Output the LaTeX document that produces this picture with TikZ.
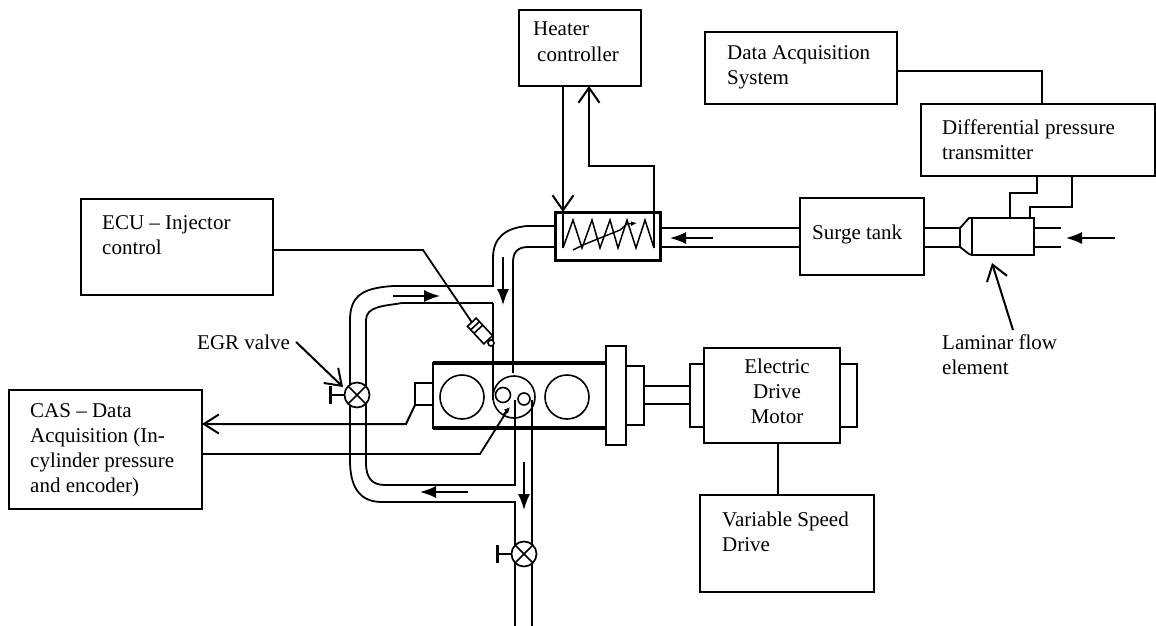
\documentclass[tikz,border=0pt]{standalone}
\usepackage{fontspec}
\setmainfont{Liberation Serif}
\usetikzlibrary{arrows.meta,calc}
\tikzset{
  box/.style={draw, line width=1.8pt, outer sep=0pt, inner sep=0pt},
  boxtext/.style={anchor=west, align=left, inner sep=0pt, font=\fontsize{21}{25}\selectfont},
  wire/.style={line width=1.8pt},
  flow/.style={line width=1.5pt, -{Latex[length=16pt,width=12pt]}},
  barb/.style={line width=2pt, -{Straight Barb[length=15pt,width=21pt,line width=2pt]}},
  valve/.style={draw, circle, fill=white, line width=1.7pt, minimum size=25pt, inner sep=0pt, outer sep=0pt}
}
\begin{document}
\begin{tikzpicture}[x=1pt,y=-1pt]
    \useasboundingbox (0,0) rectangle (1156,626);

    % Boxes, sized from their pixel extents
    \foreach \name/\x/\y/\w/\h in {ctrl/580/48/122/76, daq/801/68/192/72, dpt/1038/140/234/72,
                                   ecu/177/247/192/96, cas/105.5/449.5/193/119, surge/862/236.5/124/77,
                                   lfe/1003/236.5/62/37, engine/519.5/395.5/173/65, flange/616/395.5/20/99,
                                   hub/635/395.5/18/59, capl/697/395.5/14/63, motor/772/395.5/136/95,
                                   capr/848.5/395.5/17/63, sensor/424/394/18/22, vsd/787/543.5/174/97} {
        \node[box, minimum width=\w pt, minimum height=\h pt] (\name) at (\x,\y) {};
    }
    \node[box, line width=3pt, minimum width=105pt, minimum height=48pt] (heater) at (607.5,236) {};

    % Labels
    \node[boxtext] (ctrltext) at (533,42) {Heater\\[1pt]\hspace*{4pt}controller};
    \node[boxtext] (daqtext) at (727,67) {Data Acquisition\\System};
    \node[boxtext] (dpttext) at (942,140) {Differential pressure\\transmitter};
    \node[boxtext] (ecutext) at (102,235) {ECU -- Injector\\control};
    \node[boxtext] (castext) at (30,450) {CAS -- Data\\Acquisition (In-\\cylinder pressure\\and encoder)};
    \node[boxtext] (surgetext) at (812,234) {Surge tank};
    \node[boxtext, anchor=center, align=center] (motortext) at (777,391) {Electric\\Drive\\Motor};
    \node[boxtext] (vsdtext) at (722,532) {Variable Speed\\Drive};
    \node[boxtext] (lfetext) at (942,355) {Laminar flow\\element};
    \node[boxtext] (egrtext) at (197,342) {EGR valve};

    % Signal lines between boxes
    \coordinate (ctrlin) at (563,86);
    \coordinate (ctrlout) at (589,86);
    \draw[wire] (daq.east) ++(0,3) -- (1042,71) -- (1042,104);
    \draw[barb] (ctrlin) -- (563,212);
    \draw[wire] (563,205) -- (563,248);
    \draw[barb] (654,248) -- (654,166) -- (589,166) -- (ctrlout);
    \draw[line width=2.4pt] ([xshift=6pt]motor.south) -- ([xshift=-9pt]vsd.north);
    \draw[wire] (1037,176) -- (1037,193) -- (1010,193) -- (1010,218);
    \draw[wire] (1072,176) -- (1072,207) -- (1030,207) -- (1030,218);

    % Heating coil
    \draw[line width=1.5pt] (563,248) -- (573,220) -- (582,248) -- (592,220) -- (600,248) -- (610,220)
        -- (618,248) -- (627,220) -- (636,248) -- (645,220) -- (654,248);
    \draw[line width=1.4pt, -{Latex[length=6pt,width=5pt]}] (573,250) -- (583,245) -- (600,238) -- (620,230) -- (627,224) -- (637,223);

    % Pipes: heater to surge tank to flow element
    \foreach \y in {228,247} {
        \draw[wire] (660,\y) -- (800,\y);
        \draw[wire] (924,\y) -- (960,\y);
        \draw[wire] (1034,\y) -- (1061,\y);
    }
    \draw[wire] (960,228) -- (960,247) -- (969,254) -- (972,255);
    \draw[wire] (960,228) -- (969,218) -- (972,218);

    % Pipes: intake and EGR loop
    \draw[wire] (555,226) -- (527,226) .. controls (505,228) and (493,238) .. (493,258) -- (493,286) -- (393,286)
        .. controls (365,288) and (350,294) .. (350,320) -- (350,460) .. controls (350,485) and (358,502) .. (382,502) -- (515,502) -- (515,626);
    \draw[wire] (555,247) -- (528,247) .. controls (518,247) and (513,252) .. (513,262) -- (513,373);
    \draw[wire] (493,303) -- (402,303) .. controls (385,306) and (366,306) .. (366,320) -- (366,463)
        .. controls (366,478) and (372,485) .. (385,485) -- (515,485) -- (515,400);
    \draw[wire] (493,303) -- (493,400);
    \draw[wire] (532,400) -- (532,626);

    % Engine
    \draw[line width=3.4pt] (engine.north west) -- (engine.north east);
    \draw[line width=3.4pt] (engine.south west) -- (engine.south east);
    \foreach \x/\r in {462/22, 514/21, 567/22} {
        \draw[line width=1.6pt] (\x,397) circle (\r pt);
    }
    \draw[line width=1.6pt] (503,395) circle (7.5pt);
    \draw[line width=1.6pt] (524,399) circle (6pt);

    % Shaft
    \foreach \y in {386,404} {
        \draw[wire] (644,\y) -- (690,\y);
    }

    % Injector
    \node[draw, line width=1.6pt, fill=white, rotate=-47, minimum width=24pt, minimum height=12pt, inner sep=0pt, outer sep=0pt] (inj) at (480,331) {};
    \node[draw, circle, line width=1.6pt, fill=white, minimum size=6pt, inner sep=0pt] (injtip) at (491,343) {};
    \draw[wire] ([yshift=-3pt]ecu.east) -- (423,250) -- (inj.west);
    \draw[line width=1.6pt] ($(inj.north west)!0.2!(inj.north east)$) -- ($(inj.south west)!0.2!(inj.south east)$);
    \draw[line width=1.6pt] ($(inj.north west)!0.4!(inj.north east)$) -- ($(inj.south west)!0.4!(inj.south east)$);

    % Lines to the CAS box
    \draw[line width=2pt, -{Straight Barb[length=15pt,width=19pt,line width=2pt]}] (sensor.south west) -- (406,424) -- (cas.east |- 0,424);
    \draw[wire] (cas.east |- 0,454) -- (480,454) -- (507,411);
    \draw[line width=1.4pt, -{Latex[length=6pt,width=6pt]}] (503,415) -- (510,407);

    % Valves
    \foreach \name/\x/\y in {egr/357/395, drain/524/554} {
        \node[valve] (\name) at (\x,\y) {};
        \draw[line width=1.5pt] (\name.45) -- (\name.225);
        \draw[line width=1.5pt] (\name.135) -- (\name.315);
        \draw[wire] (\name.west) -- ++(-14,0);
        \draw[line width=2.2pt] ([xshift=-14pt,yshift=9pt]\name.west) -- ([xshift=-14pt,yshift=-9pt]\name.west);
    }

    % Flow and pointer arrows
    \coordinate (flowa) at (393,296);
    \coordinate (flowb) at (440,296);
    \draw[flow] (flowa) -- (flowb);
    \draw[flow] (503,257) -- (503,305);
    \draw[flow] (468,492) -- (420,492);
    \draw[flow] (524,462) -- (524,510);
    \draw[flow] (713,238) -- (670,238);
    \draw[flow] (1115,238) -- (1066,238);
    \draw[barb] (egrtext.east) ++(6,0) -- (343,387);
    \draw[barb] (1013,330) -- (992,263);
\end{tikzpicture}
\end{document}
